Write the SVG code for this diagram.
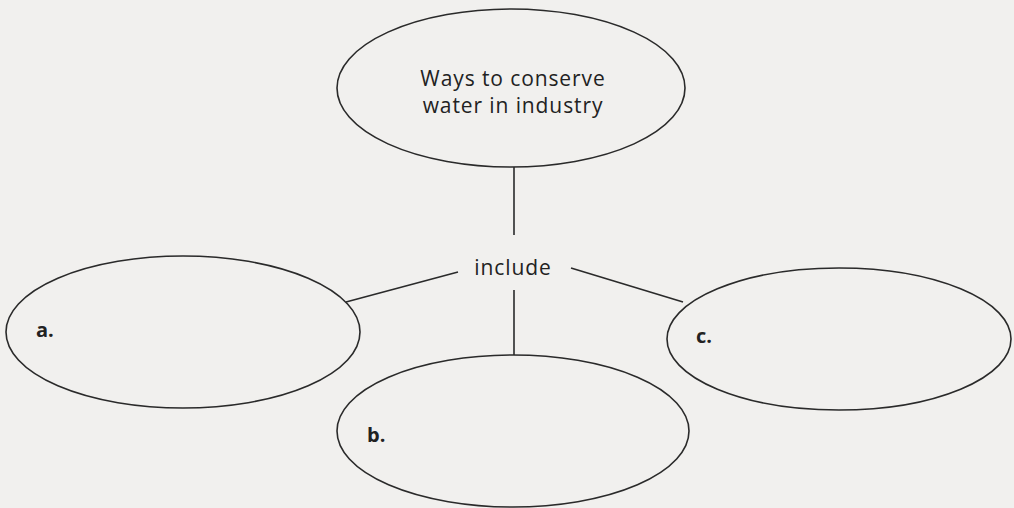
<svg xmlns="http://www.w3.org/2000/svg" width="1014" height="508" viewBox="0 0 1014 508">
<style>
.node{fill:none;stroke:#2a2a2a;stroke-width:1.6}
.conn{stroke:#2a2a2a;stroke-width:1.6;fill:none}
.t{font-family:"Open Sans","Noto Sans",sans-serif;font-size:21px;letter-spacing:0.9px;fill:#222}
.lbl{font-family:"Open Sans","Noto Sans",sans-serif;font-size:20px;font-weight:bold;fill:#222}
</style>
<rect width="1014" height="508" fill="#f1f0ee"/>
<g id="connectors">
<line class="conn" x1="514" y1="167" x2="514" y2="235"/>
<line class="conn" x1="514" y1="290" x2="514" y2="355"/>
<line class="conn" x1="458" y1="272" x2="346" y2="302"/>
<line class="conn" x1="571" y1="268" x2="683" y2="302"/>
</g>
<g id="node-top">
<ellipse class="node" cx="511" cy="88" rx="174" ry="79"/>
<text class="t" x="513" y="86" text-anchor="middle">Ways to conserve</text>
<text class="t" x="513" y="113" text-anchor="middle">water in industry</text>
</g>
<g id="node-include">
<text class="t" x="513" y="275" text-anchor="middle">include</text>
</g>
<g id="node-a">
<ellipse class="node" cx="183" cy="332" rx="177" ry="76"/>
<text class="lbl" x="36" y="337">a.</text>
</g>
<g id="node-b">
<ellipse class="node" cx="513" cy="431" rx="176" ry="76"/>
<text class="lbl" x="367" y="442">b.</text>
</g>
<g id="node-c">
<ellipse class="node" cx="839" cy="339" rx="172" ry="71"/>
<text class="lbl" x="696" y="343">c.</text>
</g>
</svg>
